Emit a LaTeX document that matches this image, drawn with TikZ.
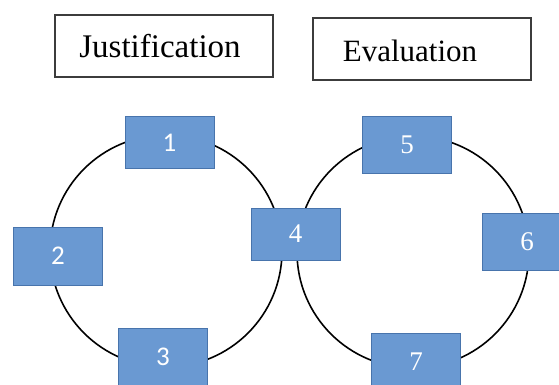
\documentclass[tikz,border=0pt]{standalone}
\usepackage{fontspec}
\setmainfont{Liberation Serif}
\newfontfamily\digsans{Carlito}
\definecolor{boxfill}{RGB}{106,153,210}
\definecolor{boxline}{RGB}{72,116,172}
\definecolor{titleline}{RGB}{60,60,60}
\begin{document}
\begin{tikzpicture}[x=1pt,y=-1pt,
  titlebox/.style={draw=titleline,line width=1.2pt,fill=white,inner sep=0pt},
  stagebox/.style={draw=boxline,line width=1pt,fill=boxfill,minimum width=89pt,inner sep=0pt,text=white,font=\fontsize{27}{27}\selectfont},
  loop/.style={draw=black,line width=1.6pt}]
\useasboundingbox (0,0) rectangle (559,385);
\fill[white] (0,0) rectangle (559,385);
\begin{scope}
\clip (0,0) rectangle (559,385);
% circles
\draw[loop] (166,251) circle (116);
\draw[loop] (413,252) circle (116);
% title boxes
\node[titlebox,minimum width=218pt,minimum height=62pt] (just) at (164,46) {};
\node[font=\fontsize{33}{33}\selectfont,anchor=base] (justt) at (160,58) {Justification};
\node[titlebox,minimum width=218pt,minimum height=62pt] (eval) at (422,49) {};
\node[font=\fontsize{31}{31}\selectfont,anchor=base] (evalt) at (410,62) {Evaluation};
% stage boxes
\node[stagebox,minimum height=51pt] (s1) at (169.5,142.5) {\digsans 1};
\node[stagebox,minimum height=58pt] (s2) at (58,256) {\digsans 2};
\node[stagebox,minimum height=58pt] (s3) at (163,357) {\digsans 3};
\node[stagebox,minimum height=52pt] (s4) at (295.5,234) {4};
\node[stagebox,minimum height=56pt] (s5) at (407,145) {5};
\node[stagebox,minimum height=57pt] (s6) at (527,241.5) {6};
\node[stagebox,minimum height=58pt] (s7) at (416,362) {7};
\end{scope}
\end{tikzpicture}
\end{document}
